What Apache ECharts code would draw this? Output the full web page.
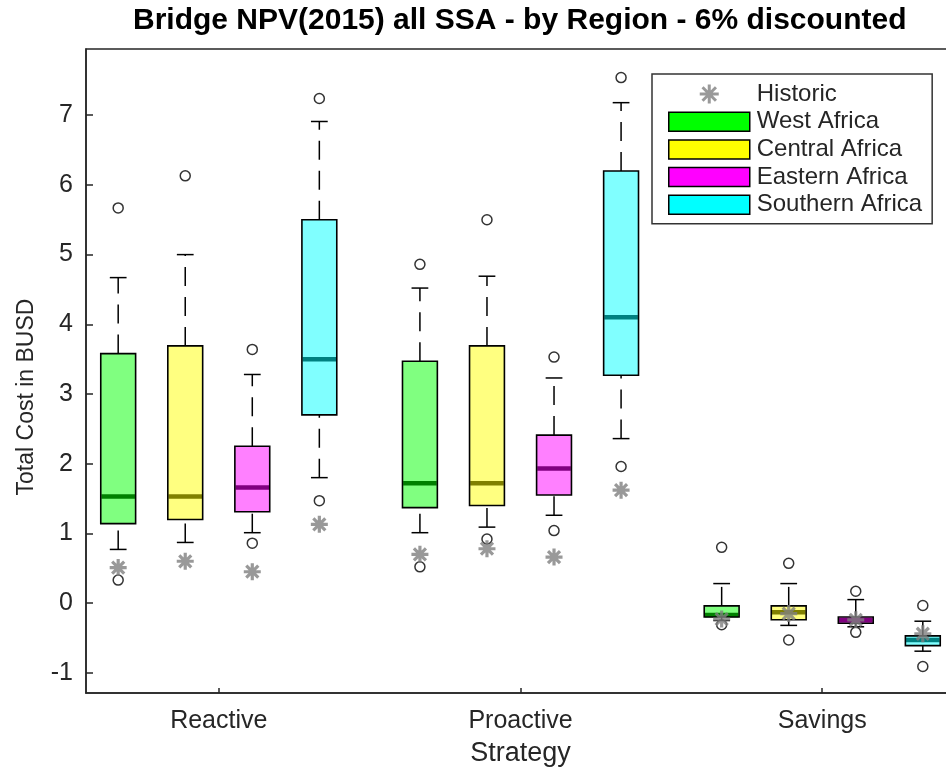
<!DOCTYPE html>
<html>
<head>
<meta charset="utf-8">
<script src="https://cdn.jsdelivr.net/npm/echarts@6/dist/echarts.min.js"></script>
<style>
  html, body { margin: 0; padding: 0; background: #ffffff; }
  #chart { width: 946px; height: 769px; }
</style>
</head>
<body>
<div id="chart"></div>
<script>
// Strategy groups along the x axis and the regions inside each group
const strategies = ['Reactive', 'Proactive', 'Savings'];
const regions = ['West Africa', 'Central Africa', 'Eastern Africa', 'Southern Africa'];
const yTicks = [-1, 0, 1, 2, 3, 4, 5, 6, 7];

// Box statistics per strategy: [lower whisker, Q1, median, Q3, upper whisker]
const westBox     = [[0.77, 1.14, 1.53, 3.58, 4.67], [1.01, 1.37, 1.72, 3.47, 4.52], [-0.25, -0.20, -0.17, -0.04, 0.28]];
const centralBox  = [[0.87, 1.20, 1.53, 3.69, 5.00], [1.09, 1.40, 1.72, 3.69, 4.69], [-0.32, -0.24, -0.13, -0.04, 0.28]];
const easternBox  = [[1.01, 1.31, 1.66, 2.25, 3.28], [1.26, 1.55, 1.93, 2.41, 3.23], [-0.34, -0.29, -0.245, -0.20, 0.05]];
const southernBox = [[1.80, 2.70, 3.50, 5.50, 6.91], [2.36, 3.27, 4.10, 6.20, 7.18], [-0.69, -0.61, -0.53, -0.47, -0.26]];

// Outlying values per strategy
const westOutliers     = [[5.67, 0.33], [4.86, 0.52], [0.80, -0.31]];
const centralOutliers  = [[6.13], [5.50, 0.92], [0.57, -0.53]];
const easternOutliers  = [[3.64, 0.86], [3.53, 1.04], [0.17, -0.42]];
const southernOutliers = [[7.24, 1.47], [7.54, 1.96], [-0.035, -0.91]];

// Historic cost per strategy
const westHistoric     = [0.51, 0.70, -0.23];
const centralHistoric  = [0.60, 0.78, -0.15];
const easternHistoric  = [0.45, 0.66, -0.24];
const southernHistoric = [1.13, 1.62, -0.44];

const boxSets      = [westBox, centralBox, easternBox, southernBox];
const outlierSets  = [westOutliers, centralOutliers, easternOutliers, southernOutliers];
const historicSets = [westHistoric, centralHistoric, easternHistoric, southernHistoric];

// Styling
const FONT = "'Liberation Sans', Arial, Helvetica, sans-serif";
const AXIS_INK = '#262626';
const fills   = ['#80ff80', '#ffff80', '#ff80ff', '#80ffff'];
const medians = ['#008000', '#808000', '#800080', '#008080'];
const swatches = ['#00ff00', '#ffff00', '#ff00ff', '#00ffff'];
const STAR = 'path://M0,-10L0,10M-10,0L10,0M-7.07,-7.07L7.07,7.07M-7.07,7.07L7.07,-7.07';

// Axis position of a region's box within a strategy group
const groupCenters = strategies.map((s, g) => 2.5 + g * 4.5);
function boxPos(g, r) { return groupCenters[g] + r - 1.5; }

function renderBox(fill, medColor) {
  return function (params, api) {
    const x = api.value(0);
    const lo = api.value(1), q1 = api.value(2), med = api.value(3), q3 = api.value(4), hi = api.value(5);
    const hw = 0.26, cw = 0.125;
    const p = (a, b) => api.coord([a, b]);
    const seg = (a, b, style) => ({ type: 'line', shape: { x1: a[0], y1: a[1], x2: b[0], y2: b[1] }, style: style });
    const tl = p(x - hw, q3), br = p(x + hw, q1);
    const rect = { x: tl[0], y: tl[1], width: br[0] - tl[0], height: br[1] - tl[1] };
    const dashed = { stroke: '#000', lineWidth: 1.5, lineDash: [19, 11] };
    const solid = { stroke: '#000', lineWidth: 1.5 };
    return {
      type: 'group',
      children: [
        seg(p(x, q3), p(x, hi), dashed),
        seg(p(x, lo), p(x, q1), dashed),
        seg(p(x - cw, hi), p(x + cw, hi), solid),
        seg(p(x - cw, lo), p(x + cw, lo), solid),
        { type: 'rect', shape: rect, style: { fill: fill, stroke: null } },
        seg(p(x - hw + 0.01, med), p(x + hw - 0.01, med), { stroke: medColor, lineWidth: 4.5 }),
        { type: 'rect', shape: rect, style: { fill: null, stroke: '#000', lineWidth: 1.6 } }
      ]
    };
  };
}

const series = [];
regions.forEach((name, r) => {
  series.push({
    name: name,
    type: 'custom',
    renderItem: renderBox(fills[r], medians[r]),
    encode: { x: 0, y: [1, 2, 3, 4, 5] },
    data: boxSets[r].map((b, g) => [boxPos(g, r)].concat(b)),
    z: 2,
    silent: true
  });
});

const outlierPoints = [];
outlierSets.forEach((set, r) => set.forEach((vals, g) => vals.forEach(v => outlierPoints.push([boxPos(g, r), v]))));
series.push({
  name: 'Outliers',
  type: 'scatter',
  symbol: 'circle',
  symbolSize: 10,
  itemStyle: { color: 'rgba(0,0,0,0)', borderColor: '#000', borderWidth: 1.5 },
  data: outlierPoints,
  z: 3,
  silent: true
});

const historicPoints = [];
historicSets.forEach((set, r) => set.forEach((v, g) => historicPoints.push([boxPos(g, r), v])));
series.push({
  name: 'Historic',
  type: 'scatter',
  symbol: STAR,
  symbolSize: 17,
  itemStyle: { color: 'rgba(0,0,0,0)', borderColor: '#808080', borderWidth: 3.2 },
  data: historicPoints,
  z: 4,
  silent: true
});

const chart = echarts.init(document.getElementById('chart'), null, { renderer: 'canvas' });
chart.setOption({
  animation: false,
  backgroundColor: '#ffffff',
  title: {
    text: 'Bridge NPV(2015) all SSA - by Region - 6% discounted',
    left: 133,
    top: 6,
    padding: 0,
    textStyle: { fontFamily: FONT, fontSize: 30, fontWeight: 'bold', color: '#000' }
  },
  grid: {
    left: 86, right: -9, top: 49, bottom: 76,
    outerBoundsMode: 'none',
    containLabel: false,
    show: true, borderColor: AXIS_INK, borderWidth: 1.5, backgroundColor: 'transparent'
  },
  legend: {
    orient: 'vertical',
    left: 652, top: 74,
    padding: [8, 10, 7, 16],
    itemWidth: 81, itemHeight: 19, itemGap: 3.7,
    borderColor: '#333', borderWidth: 1.5, backgroundColor: '#fff',
    selectedMode: false,
    textStyle: { fontFamily: FONT, fontSize: 24, color: '#262626', lineHeight: 23, padding: [0, 0, 0, 2] },
    data: [{
      name: 'Historic', icon: STAR,
      itemStyle: { color: 'rgba(0,0,0,0)', borderColor: '#808080', borderWidth: 3 }
    }].concat(regions.map((name, r) => ({
      name: name, icon: 'rect',
      itemStyle: { color: swatches[r], borderColor: '#000', borderWidth: 1.5 }
    })))
  },
  xAxis: {
    type: 'value',
    min: 0.52, max: 13.48,
    name: 'Strategy',
    nameLocation: 'middle',
    nameGap: 47,
    nameTextStyle: { fontFamily: FONT, fontSize: 27, color: '#262626' },
    axisLine: { show: true, onZero: false, lineStyle: { color: AXIS_INK, width: 1.5 } },
    axisTick: { show: true, inside: true, length: 5, customValues: groupCenters, lineStyle: { color: AXIS_INK, width: 1.5 } },
    axisLabel: {
      customValues: groupCenters,
      margin: 16,
      fontFamily: FONT, fontSize: 25, color: '#262626',
      formatter: v => {
        const i = groupCenters.findIndex(c => Math.abs(c - v) < 1e-6);
        return i >= 0 ? strategies[i] : '';
      }
    },
    splitLine: { show: false }
  },
  yAxis: {
    type: 'value',
    min: -1.29, max: 7.95,
    name: 'Total Cost in BUSD',
    nameLocation: 'middle',
    nameGap: 48,
    nameTextStyle: { fontFamily: FONT, fontSize: 23, color: '#262626', padding: [0, 52, 0, 0] },
    axisLine: { show: true, onZero: false, lineStyle: { color: AXIS_INK, width: 1.5 } },
    axisTick: { show: true, inside: true, length: 7, customValues: yTicks, lineStyle: { color: AXIS_INK, width: 1.5 } },
    axisLabel: { customValues: yTicks, margin: 13, fontFamily: FONT, fontSize: 25, color: '#262626' },
    splitLine: { show: false }
  },
  series: series
});
</script>
</body>
</html>
